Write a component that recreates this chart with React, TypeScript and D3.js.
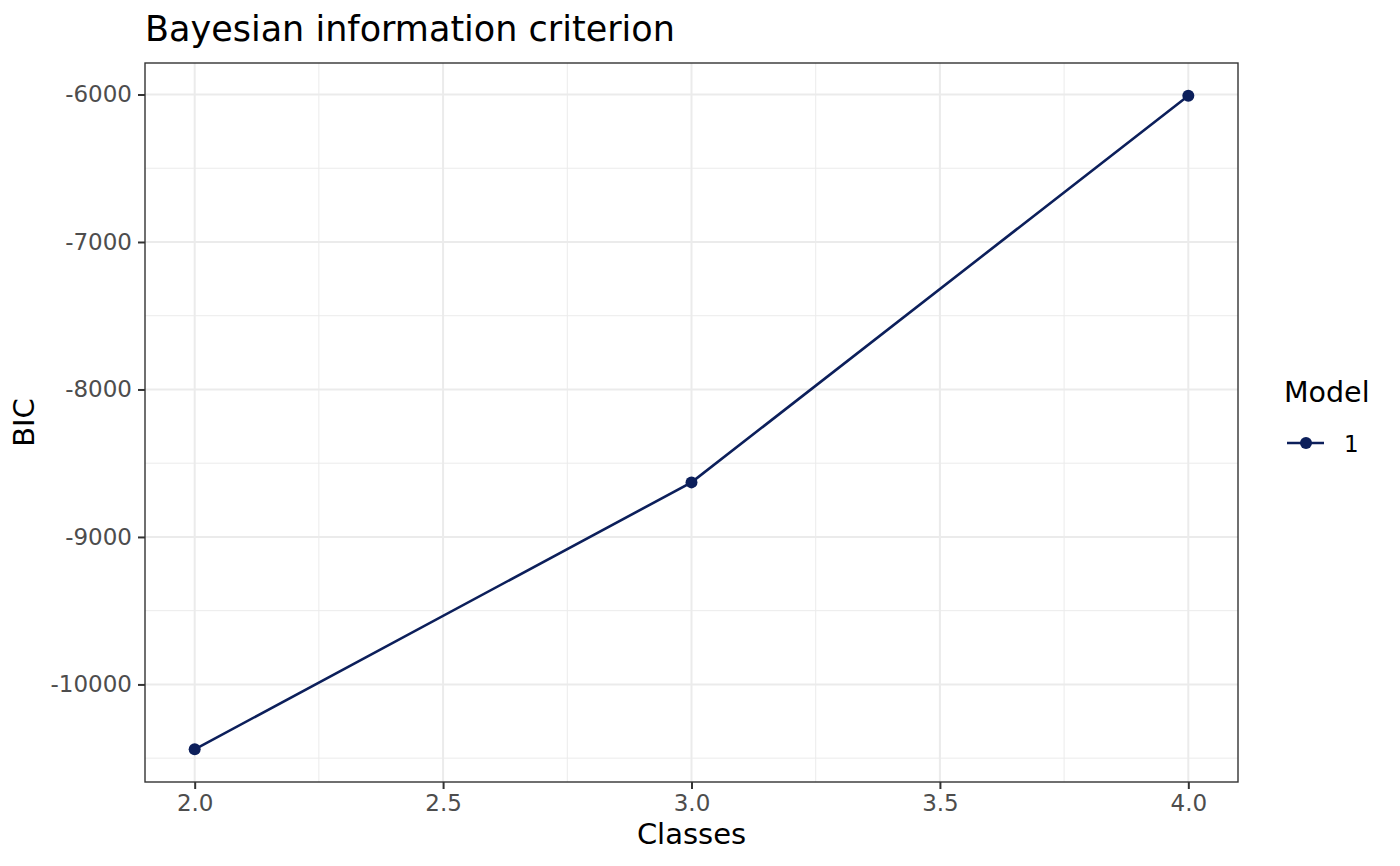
import { useEffect, useRef } from "react"
import * as d3 from "d3"

const classes = [2, 3, 4]
const bic = [-10440, -8630, -6008]
const xTicks = [2.0, 2.5, 3.0, 3.5, 4.0]
const yTicks = [-10000, -9000, -8000, -7000, -6000]
const modelLabels = ["1"]

export default function App() {
  const svgRef = useRef(null)

  useEffect(() => {
    if (!svgRef.current) return

    const svg = d3.select(svgRef.current)
    svg.selectAll("*").remove()

    const width = 1400
    const height = 866
    const panel = { left: 145, right: 1238, top: 63, bottom: 782 }
    const lineColor = "#0c1f5b"
    const font = "DejaVu Sans, sans-serif"

    svg.append("rect").attr("width", width).attr("height", height).attr("fill", "#ffffff")

    // ggplot-style 5% expansion
    const xExt = d3.extent(classes) as [number, number]
    const xPad = (xExt[1] - xExt[0]) * 0.05
    const x = d3.scaleLinear().domain([xExt[0] - xPad, xExt[1] + xPad]).range([panel.left, panel.right])

    const yExt = d3.extent(bic) as [number, number]
    const yPad = (yExt[1] - yExt[0]) * 0.05
    const y = d3.scaleLinear().domain([yExt[0] - yPad, yExt[1] + yPad]).range([panel.bottom, panel.top])

    const g = svg.append("g")

    // minor grid lines (midpoints between major ticks)
    const xMinor = xTicks.slice(1).map((t, i) => (t + xTicks[i]) / 2)
    const yMinor = yTicks.slice(1).map((t, i) => (t + yTicks[i]) / 2)
    yMinor.push(yTicks[0] - 500)

    g.selectAll(".xminor")
      .data(xMinor)
      .enter()
      .append("line")
      .attr("x1", (d) => x(d))
      .attr("x2", (d) => x(d))
      .attr("y1", panel.top)
      .attr("y2", panel.bottom)
      .attr("stroke", "#ebebeb")
      .attr("stroke-width", 1)

    g.selectAll(".yminor")
      .data(yMinor.filter((d) => y(d) > panel.top && y(d) < panel.bottom))
      .enter()
      .append("line")
      .attr("x1", panel.left)
      .attr("x2", panel.right)
      .attr("y1", (d) => y(d))
      .attr("y2", (d) => y(d))
      .attr("stroke", "#ebebeb")
      .attr("stroke-width", 1)

    // major grid lines
    g.selectAll(".xmajor")
      .data(xTicks)
      .enter()
      .append("line")
      .attr("x1", (d) => x(d))
      .attr("x2", (d) => x(d))
      .attr("y1", panel.top)
      .attr("y2", panel.bottom)
      .attr("stroke", "#ebebeb")
      .attr("stroke-width", 2)

    g.selectAll(".ymajor")
      .data(yTicks)
      .enter()
      .append("line")
      .attr("x1", panel.left)
      .attr("x2", panel.right)
      .attr("y1", (d) => y(d))
      .attr("y2", (d) => y(d))
      .attr("stroke", "#ebebeb")
      .attr("stroke-width", 2)

    // data line + points
    const data = classes.map((c, i) => ({ c, v: bic[i] }))
    g.append("path")
      .datum(data)
      .attr("fill", "none")
      .attr("stroke", lineColor)
      .attr("stroke-width", 2.6)
      .attr(
        "d",
        d3
          .line<{ c: number; v: number }>()
          .x((d) => x(d.c))
          .y((d) => y(d.v)),
      )

    g.selectAll(".dot")
      .data(data)
      .enter()
      .append("circle")
      .attr("cx", (d) => x(d.c))
      .attr("cy", (d) => y(d.v))
      .attr("r", 6)
      .attr("fill", lineColor)

    // panel border
    g.append("rect")
      .attr("x", panel.left)
      .attr("y", panel.top)
      .attr("width", panel.right - panel.left)
      .attr("height", panel.bottom - panel.top)
      .attr("fill", "none")
      .attr("stroke", "#333333")
      .attr("stroke-width", 1.4)

    // axes
    const xAxis = g
      .append("g")
      .attr("transform", `translate(0,${panel.bottom})`)
      .call(
        d3
          .axisBottom(x)
          .tickValues(xTicks)
          .tickFormat(d3.format(".1f"))
          .tickSize(7)
          .tickPadding(6),
      )
    xAxis.select(".domain").remove()
    xAxis.selectAll("line").attr("stroke", "#333333").attr("stroke-width", 2)
    xAxis.selectAll("text").attr("fill", "#4d4d4d").attr("font-size", "23px").attr("font-family", font)

    const yAxis = g
      .append("g")
      .attr("transform", `translate(${panel.left},0)`)
      .call(
        d3
          .axisLeft(y)
          .tickValues(yTicks)
          .tickFormat((d) => String(d))
          .tickSize(7)
          .tickPadding(6),
      )
    yAxis.select(".domain").remove()
    yAxis.selectAll("line").attr("stroke", "#333333").attr("stroke-width", 2)
    yAxis.selectAll("text").attr("fill", "#4d4d4d").attr("font-size", "23px").attr("font-family", font)

    // titles
    svg.append("text")
      .attr("x", panel.left)
      .attr("y", 41)
      .attr("font-family", font)
      .attr("font-size", "35px")
      .attr("fill", "#000000")
      .text("Bayesian information criterion")

    svg.append("text")
      .attr("x", (panel.left + panel.right) / 2)
      .attr("y", 844)
      .attr("text-anchor", "middle")
      .attr("font-family", font)
      .attr("font-size", "29px")
      .attr("fill", "#000000")
      .text("Classes")

    svg.append("text")
      .attr("transform", `translate(34,${(panel.top + panel.bottom) / 2}) rotate(-90)`)
      .attr("text-anchor", "middle")
      .attr("font-family", font)
      .attr("font-size", "29px")
      .attr("fill", "#000000")
      .text("BIC")

    // legend
    const legend = svg.append("g").attr("transform", "translate(1284, 0)")
    legend.append("text")
      .attr("x", 0)
      .attr("y", 402)
      .attr("font-family", font)
      .attr("font-size", "28.5px")
      .attr("fill", "#000000")
      .text("Model")

    modelLabels.forEach((label, i) => {
      const lg = legend.append("g").attr("transform", `translate(0, ${443 + i * 45})`)
      lg.append("line")
        .attr("x1", 3)
        .attr("x2", 40)
        .attr("y1", 0)
        .attr("y2", 0)
        .attr("stroke", lineColor)
        .attr("stroke-width", 2.6)
      lg.append("circle").attr("cx", 22).attr("cy", 0).attr("r", 6).attr("fill", lineColor)
      lg.append("text")
        .attr("x", 60)
        .attr("y", 9)
        .attr("font-family", font)
        .attr("font-size", "23px")
        .attr("fill", "#000000")
        .text(label)
    })

    svg.attr("width", width).attr("height", height).attr("viewBox", [0, 0, width, height])
  }, [])

  return (
    <div style={{ margin: -8 }}>
      <svg ref={svgRef} style={{ display: "block" }}></svg>
    </div>
  )
}
